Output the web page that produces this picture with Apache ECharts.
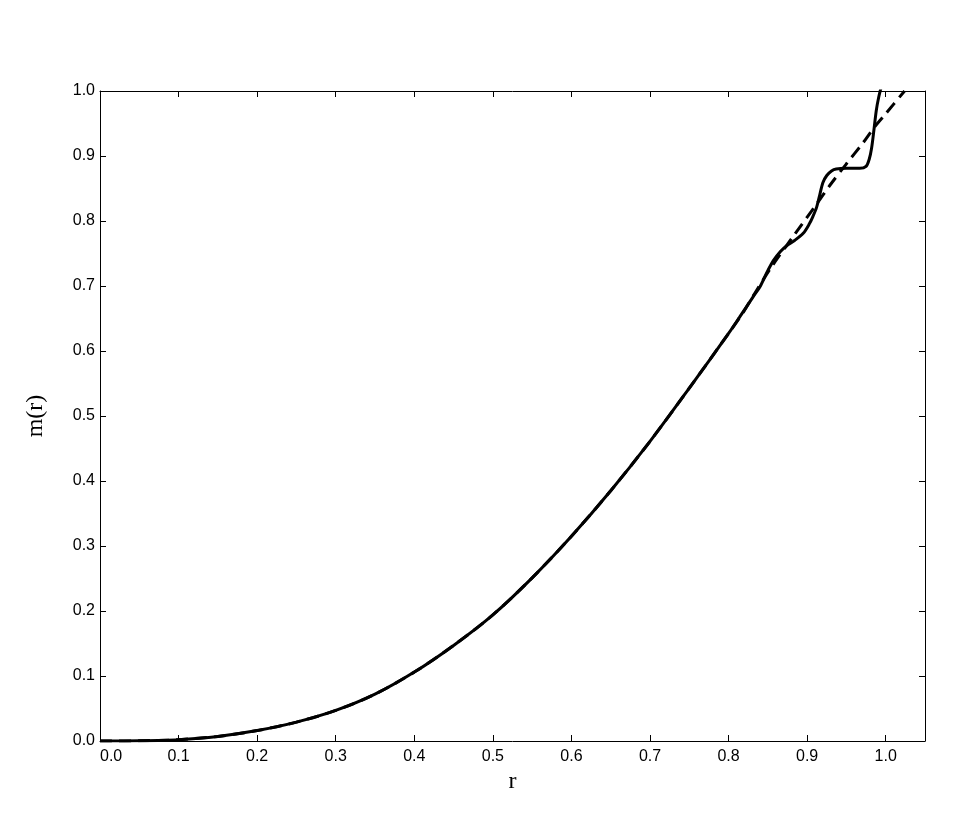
<!DOCTYPE html>
<html>
<head>
<meta charset="utf-8">
<script src="https://cdn.jsdelivr.net/npm/echarts@6/dist/echarts.min.js"></script>
<style>
  html, body { margin: 0; padding: 0; background: #fff; }
  #chart { width: 969px; height: 832px; }
</style>
</head>
<body>
<div id="chart"></div>
<script>
// shared part of both curves (r, m(r))
var rBody = [0.00, 0.05, 0.10, 0.15, 0.20, 0.25, 0.30, 0.35, 0.40, 0.45, 0.50, 0.55, 0.60, 0.65, 0.70, 0.75, 0.80];
var mBody = [0.000, 0.0003, 0.002, 0.007, 0.016, 0.029, 0.047, 0.072, 0.106, 0.147, 0.194, 0.251, 0.315, 0.385, 0.461, 0.543, 0.627];

// solid curve after r = 0.8 (steps)
var rSolidTail = [0.814, 0.831, 0.840, 0.848, 0.857, 0.866, 0.874, 0.884, 0.895, 0.903, 0.907, 0.912, 0.916, 0.920, 0.925, 0.931, 0.937, 0.950, 0.967, 0.975, 0.979, 0.982, 0.985, 0.988, 0.991, 0.995, 1.000];
var mSolidTail = [0.652, 0.683, 0.699, 0.719, 0.739, 0.753, 0.762, 0.770, 0.781, 0.796, 0.806, 0.821, 0.840, 0.859, 0.870, 0.877, 0.880, 0.881, 0.881, 0.884, 0.895, 0.912, 0.940, 0.970, 0.990, 1.010, 1.040];

// dashed curve after r = 0.8
var rDashTail = [0.820, 0.835, 0.855, 0.882, 0.912, 0.929, 0.950, 0.971, 0.986, 1.000, 1.024];
var mDashTail = [0.662, 0.692, 0.730, 0.776, 0.826, 0.855, 0.888, 0.920, 0.945, 0.965, 1.000];

var xTicks = ['0.0', '0.1', '0.2', '0.3', '0.4', '0.5', '0.6', '0.7', '0.8', '0.9', '1.0'];
var yTicks = ['0.0', '0.1', '0.2', '0.3', '0.4', '0.5', '0.6', '0.7', '0.8', '0.9', '1.0'];

function pairs(xs, ys) {
  var out = [];
  for (var i = 0; i < xs.length; i++) out.push([xs[i], ys[i]]);
  return out;
}

var solidData = pairs(rBody, mBody).concat(pairs(rSolidTail, mSolidTail));
var dashData = pairs(rBody, mBody).concat(pairs(rDashTail, mDashTail));

var labelFont = { fontFamily: 'Liberation Sans, Arial, sans-serif', fontSize: 16, color: '#000' };
var nameFont = { fontFamily: 'Liberation Serif, Times New Roman, serif', fontSize: 24, color: '#000' };
var lineStyle = { color: '#000', width: 1 };

function xAxis(pos, show) {
  return {
    type: 'value', position: pos, min: 0, max: 1.05, interval: 0.1,
    axisLine: { show: true, onZero: false, lineStyle: lineStyle },
    axisTick: { show: true, inside: true, length: 6, lineStyle: lineStyle },
    axisLabel: show ? Object.assign({
      margin: 8, showMaxLabel: false, alignMinLabel: 'left',
      formatter: function (v) { var i = Math.round(v * 10); return Math.abs(v * 10 - i) < 1e-6 ? xTicks[i] : ''; }
    }, labelFont) : { show: false },
    splitLine: { show: false },
    name: show ? 'r' : '', nameLocation: 'middle', nameGap: 29,
    nameTextStyle: nameFont
  };
}

function yAxis(pos, show) {
  return {
    type: 'value', position: pos, min: 0, max: 1, interval: 0.1,
    axisLine: { show: true, onZero: false, lineStyle: lineStyle },
    axisTick: { show: true, inside: true, length: 6, lineStyle: lineStyle },
    axisLabel: show ? Object.assign({
      margin: 5,
      formatter: function (v) { return yTicks[Math.round(v * 10)]; }
    }, labelFont) : { show: false },
    splitLine: { show: false },
    name: show ? 'm(r)' : '', nameLocation: 'middle', nameGap: 52,
    nameTextStyle: nameFont
  };
}

var chart = echarts.init(document.getElementById('chart'), null, { renderer: 'canvas' });
chart.setOption({
  animation: false,
  backgroundColor: '#fff',
  grid: { left: 100, right: 44, top: 91, bottom: 91, containLabel: false },
  xAxis: [xAxis('bottom', true), xAxis('top', false)],
  yAxis: [yAxis('left', true), yAxis('right', false)],
  series: [
    {
      type: 'line', data: dashData, showSymbol: false, smooth: 0.3, clip: true,
      lineStyle: { color: '#000', width: 3, type: [12, 7] }
    },
    {
      type: 'line', data: solidData, showSymbol: false, smooth: 0.3, clip: true,
      lineStyle: { color: '#000', width: 3 }
    }
  ]
});
</script>
</body>
</html>
